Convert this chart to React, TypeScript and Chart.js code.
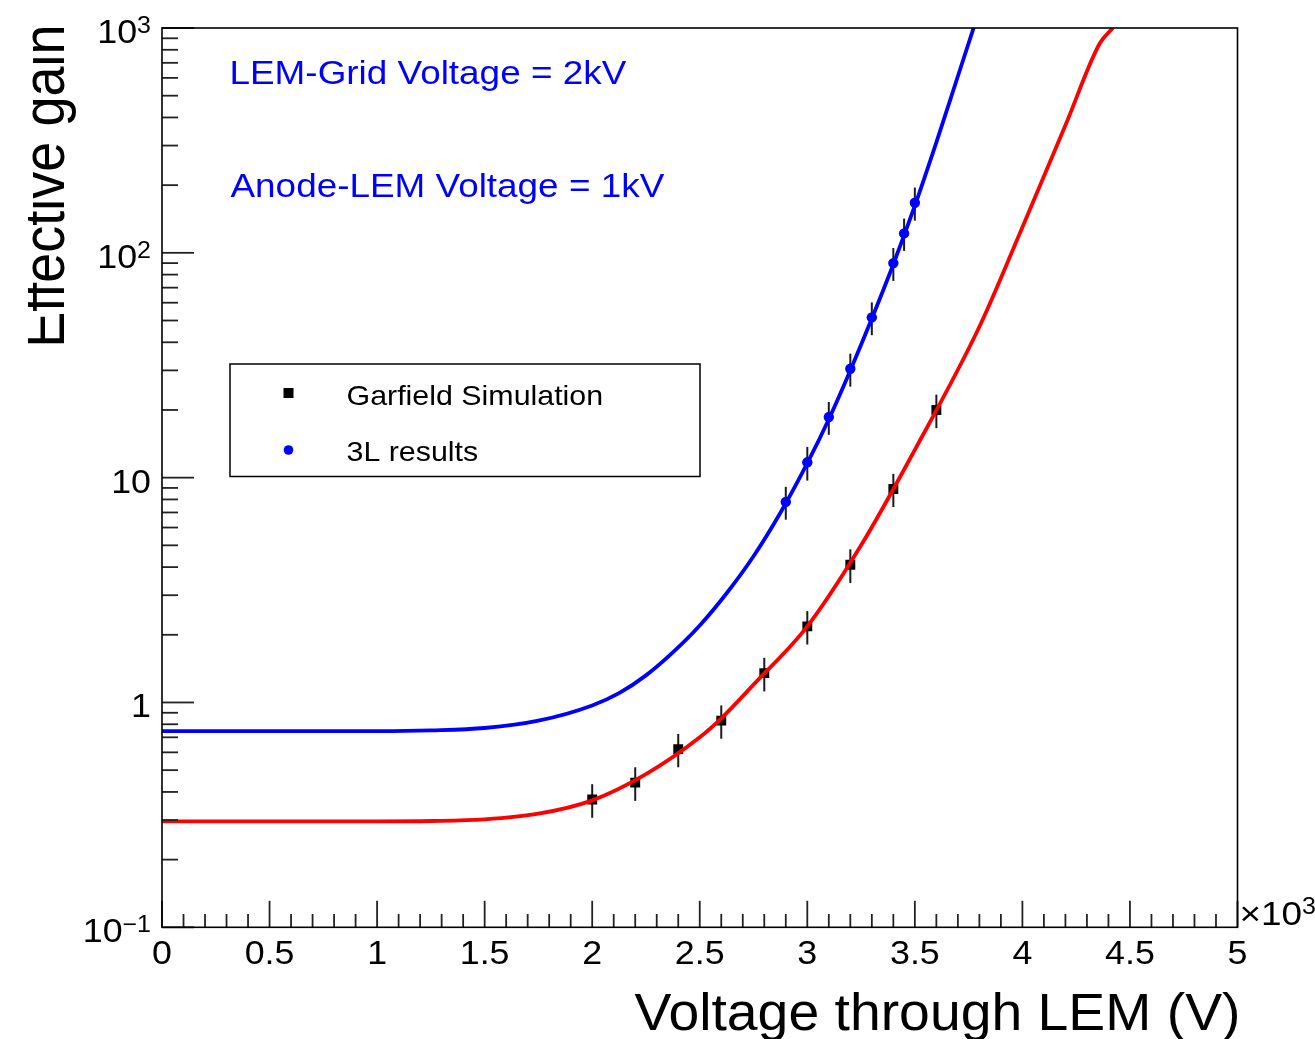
import React, { useEffect, useRef } from 'react';
import { Chart, registerables } from 'chart.js';

Chart.register(...registerables);

// ---- data ----
const garfieldVoltage = [2000, 2200, 2400, 2600, 2800, 3000, 3200, 3400, 3600];
const garfieldGain = [0.37, 0.44, 0.62, 0.83, 1.35, 2.18, 4.1, 8.9, 20];
const garfieldErr = [0.063, 0.075, 0.105, 0.14, 0.23, 0.37, 0.7, 1.5, 3.4];

const resultsVoltage = [2900, 3000, 3100, 3200, 3300, 3400, 3450, 3500];
const resultsGain = [7.8, 11.7, 18.6, 30.5, 51.6, 90, 122, 167];
const resultsErr = [1.3, 2.0, 3.1, 5.1, 8.6, 15, 20, 28];

const redFitVoltage = [0, 500, 1000, 1250, 1500, 1750, 2000, 2250, 2500, 2600, 2750, 3000, 3250, 3500, 3800, 4000, 4200, 4360, 4420];
const redFitGain = [0.296, 0.296, 0.296, 0.297, 0.302, 0.32, 0.367, 0.48, 0.7, 0.85, 1.2, 2.18, 5.0, 13.3, 46.9, 130, 369, 855, 1000];

const blueFitVoltage = [0, 500, 1000, 1250, 1500, 1750, 2000, 2125, 2250, 2375, 2500, 2625, 2750, 2875, 3000, 3100, 3200, 3300, 3400, 3500, 3600, 3700, 3800];
const blueFitGain = [0.745, 0.745, 0.746, 0.752, 0.77, 0.83, 0.97, 1.10, 1.32, 1.67, 2.2, 3.06, 4.47, 6.98, 11.6, 18.2, 30, 51, 89, 162, 310, 610, 1200];

const xTickValues = [0, 500, 1000, 1500, 2000, 2500, 3000, 3500, 4000, 4500, 5000];
const xTickLabels = ['0', '0.5', '1', '1.5', '2', '2.5', '3', '3.5', '4', '4.5', '5'];
const yTickValues = [0.1, 1, 10, 100, 1000];
const yTickBases = ['10', '1', '10', '10', '10'];
const yTickExponents = ['\u22121', '', '', '2', '3'];

const seriesLabels = ['Garfield Simulation', '3L results'];
const annotations = ['LEM-Grid Voltage = 2kV', 'Anode-LEM Voltage = 1kV'];
const xTitle = 'Voltage through LEM (V)';
const yTitle = 'Effective gain';

const FONT = '"Liberation Sans", Arial, Helvetica, sans-serif';
const SX = 1.085;
const BLUE = '#0000ff';
const RED = '#ff0000';

function drawText(ctx: CanvasRenderingContext2D, s: string, x: number, y: number, size: number, align: string, color: string): number {
  ctx.save();
  ctx.font = `${size}px ${FONT}`;
  ctx.fillStyle = color;
  ctx.textBaseline = 'alphabetic';
  ctx.textAlign = 'left';
  const w = ctx.measureText(s).width * SX;
  let x0 = x;
  if (align === 'center') x0 = x - w / 2;
  else if (align === 'right') x0 = x - w;
  ctx.translate(x0, y);
  ctx.scale(SX, 1);
  ctx.fillText(s, 0, 0);
  ctx.restore();
  return w;
}

function measure(ctx: CanvasRenderingContext2D, s: string, size: number): number {
  ctx.save();
  ctx.font = `${size}px ${FONT}`;
  const w = ctx.measureText(s).width * SX;
  ctx.restore();
  return w;
}

const errorBarPlugin = {
  id: 'errorBars',
  beforeDatasetsDraw(chart: any) {
    const ctx = chart.ctx as CanvasRenderingContext2D;
    const xs = chart.scales.x;
    const ys = chart.scales.y;
    ctx.save();
    ctx.strokeStyle = '#1a1a1a';
    ctx.lineWidth = 2;
    const draw = (vx: number[], vy: number[], ve: number[]) => {
      for (let i = 0; i < vx.length; i++) {
        const px = xs.getPixelForValue(vx[i]);
        const top = ys.getPixelForValue(vy[i] + ve[i]);
        const bot = ys.getPixelForValue(vy[i] - ve[i]);
        ctx.beginPath();
        ctx.moveTo(px, top);
        ctx.lineTo(px, bot);
        ctx.stroke();
      }
    };
    draw(garfieldVoltage, garfieldGain, garfieldErr);
    draw(resultsVoltage, resultsGain, resultsErr);
    ctx.restore();
  },
};

const decorPlugin = {
  id: 'rootDecor',
  afterDraw(chart: any) {
    const ctx = chart.ctx as CanvasRenderingContext2D;
    const xs = chart.scales.x;
    const ys = chart.scales.y;
    const a = chart.chartArea;

    // ticks
    ctx.save();
    ctx.strokeStyle = '#222';
    ctx.lineWidth = 1.8;
    for (let v = 0; v <= 5000; v += 100) {
      const px = xs.getPixelForValue(v);
      const len = v % 500 === 0 ? 26.5 : 13.3;
      ctx.beginPath();
      ctx.moveTo(px, a.bottom);
      ctx.lineTo(px, a.bottom - len);
      ctx.stroke();
    }
    for (let d = 0; d < yTickValues.length; d++) {
      const dec = yTickValues[d];
      const py = ys.getPixelForValue(dec);
      ctx.beginPath();
      ctx.moveTo(a.left, py);
      ctx.lineTo(a.left + 32, py);
      ctx.stroke();
      if (d < yTickValues.length - 1) {
        for (let k = 2; k <= 9; k++) {
          const pm = ys.getPixelForValue(dec * k);
          ctx.beginPath();
          ctx.moveTo(a.left, pm);
          ctx.lineTo(a.left + 16, pm);
          ctx.stroke();
        }
      }
    }
    ctx.restore();

    // frame
    ctx.save();
    ctx.strokeStyle = '#000';
    ctx.lineWidth = 1.6;
    ctx.strokeRect(a.left, a.top, a.right - a.left, a.bottom - a.top);
    ctx.restore();

    // x tick labels
    for (let i = 0; i < xTickValues.length; i++) {
      const px = xs.getPixelForValue(xTickValues[i]);
      drawText(ctx, xTickLabels[i], px, a.bottom + 37, 33, 'center', '#000');
    }
    // y tick labels
    const labelRight = a.left - 11;
    for (let i = 0; i < yTickValues.length; i++) {
      const py = ys.getPixelForValue(yTickValues[i]);
      const wb = measure(ctx, yTickBases[i], 33);
      const we = yTickExponents[i] ? measure(ctx, yTickExponents[i], 23) : 0;
      const start = labelRight - wb - we;
      drawText(ctx, yTickBases[i], start, py + 15, 33, 'left', '#000');
      if (yTickExponents[i]) drawText(ctx, yTickExponents[i], start + wb, py + 5, 23, 'left', '#000');
    }
    // x10^3 multiplier
    {
      const x0 = a.right + 2;
      const y0 = a.bottom - 2;
      const w1 = drawText(ctx, '\u00d710', x0, y0, 34, 'left', '#000');
      drawText(ctx, '3', x0 + w1, y0 - 11, 23, 'left', '#000');
    }

    // axis titles
    drawText(ctx, xTitle, a.right + 3, 1029.5, 51, 'right', '#000');
    ctx.save();
    ctx.beginPath();
    ctx.rect(28, 0, 400, 1039);
    ctx.clip();
    ctx.font = `54px ${FONT}`;
    ctx.fillStyle = '#000';
    ctx.textAlign = 'right';
    ctx.textBaseline = 'alphabetic';
    ctx.translate(64, a.top - 3.5);
    ctx.rotate(-Math.PI / 2);
    ctx.scale(1, SX);
    ctx.fillText(yTitle, 0, 0);
    ctx.restore();

    // annotations
    drawText(ctx, annotations[0], 229.5, 83.5, 34, 'left', BLUE);
    drawText(ctx, annotations[1], 230.5, 196.5, 34, 'left', BLUE);

    // legend box
    ctx.save();
    ctx.fillStyle = '#fff';
    ctx.fillRect(230, 364, 470, 112.5);
    ctx.strokeStyle = '#000';
    ctx.lineWidth = 1.5;
    ctx.strokeRect(230, 364, 470, 112.5);
    ctx.fillStyle = '#000';
    ctx.fillRect(283.5, 388, 10, 10);
    ctx.fillStyle = BLUE;
    ctx.beginPath();
    ctx.arc(288.5, 450, 4.8, 0, Math.PI * 2);
    ctx.fill();
    ctx.restore();
    drawText(ctx, seriesLabels[0], 346.5, 405, 28, 'left', '#000');
    drawText(ctx, seriesLabels[1], 346.5, 460.5, 28, 'left', '#000');
  },
};

export default function App() {
  const ref = useRef<HTMLCanvasElement | null>(null);
  useEffect(() => {
    if (!ref.current) return;
    const toXY = (xs: number[], ys: number[]) => xs.map((x, i) => ({ x, y: ys[i] }));
    const chart = new Chart(ref.current, {
      type: 'scatter',
      data: {
        datasets: [
          {
            label: 'fit red',
            data: toXY(redFitVoltage, redFitGain),
            showLine: true,
            borderColor: RED,
            borderWidth: 3.8,
            pointRadius: 0,
            cubicInterpolationMode: 'monotone',
            clip: 0,
          } as any,
          {
            label: 'fit blue',
            data: toXY(blueFitVoltage, blueFitGain),
            showLine: true,
            borderColor: BLUE,
            borderWidth: 3.8,
            pointRadius: 0,
            cubicInterpolationMode: 'monotone',
            clip: 0,
          } as any,
          {
            label: seriesLabels[0],
            data: toXY(garfieldVoltage, garfieldGain),
            pointStyle: 'rect',
            pointRadius: 7,
            backgroundColor: '#000',
            borderWidth: 0,
          },
          {
            label: seriesLabels[1],
            data: toXY(resultsVoltage, resultsGain),
            pointStyle: 'circle',
            pointRadius: 5.2,
            backgroundColor: BLUE,
            borderWidth: 0,
          },
        ],
      },
      options: {
        animation: false,
        responsive: false,
        devicePixelRatio: 1,
        events: [],
        layout: { padding: { left: 162, right: 77.5, top: 28, bottom: 111.7 } },
        plugins: { legend: { display: false }, tooltip: { enabled: false } },
        scales: {
          x: { type: 'linear', min: 0, max: 5000, display: false },
          y: { type: 'logarithmic', min: 0.1, max: 1000, display: false },
        },
      },
      plugins: [errorBarPlugin, decorPlugin],
    });
    return () => chart.destroy();
  }, []);
  return (
    <div style={{ position: 'fixed', left: 0, top: 0, width: 1315, height: 1039, background: '#fff' }}>
      <canvas ref={ref} width={1315} height={1039} />
    </div>
  );
}
